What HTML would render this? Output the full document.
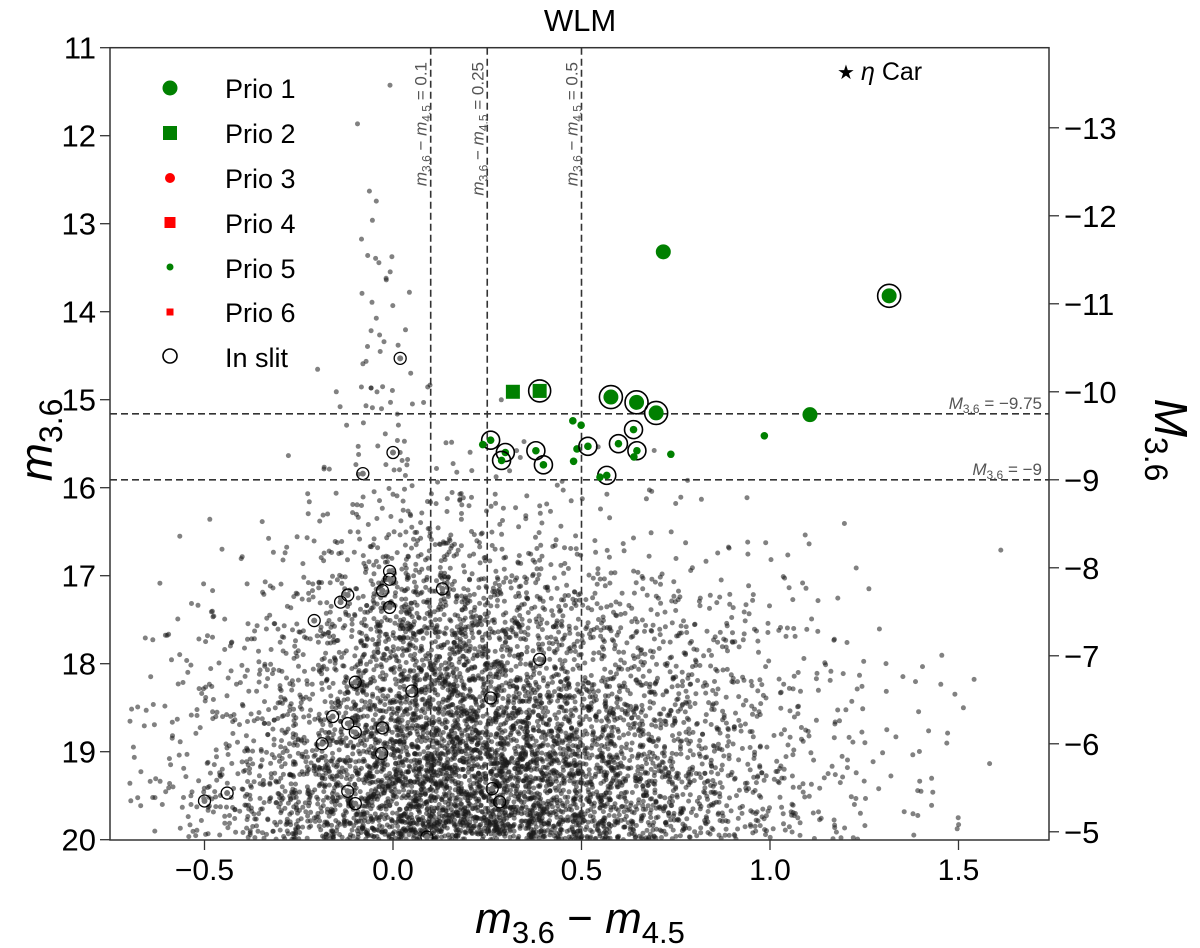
<!DOCTYPE html>
<html><head><meta charset="utf-8"><style>
html,body{margin:0;padding:0;background:#fff;}
svg{display:block;font-family:"Liberation Sans","DejaVu Sans",sans-serif;}
</style></head><body>
<svg id="chart" width="1200" height="948" viewBox="0 0 1200 948" xmlns="http://www.w3.org/2000/svg">
</svg>
<script>
// ---- data ----
const xBinStart = -0.7, xBinStep = 0.1;
const mBinStart = 11, mBinStep = 0.5;
// gray field-star counts per (m-row, color-column) cell
const densityRows = [
 [0,0,0,0,0,0,1,0,0,0,0,0,0,0,0,0,0,0,0,0,0,0,0,0],
 [0,0,0,0,0,0,1,0,0,0,0,0,0,0,0,0,0,0,0,0,0,0,0,0],
 [0,0,0,0,0,0,0,0,0,0,0,0,0,0,0,0,0,0,0,0,0,0,0,0],
 [0,0,0,0,0,0,3,0,0,0,0,0,0,0,0,0,0,0,0,0,0,0,0,0],
 [0,0,0,0,0,0,5,0,0,0,0,0,0,0,0,0,0,0,0,0,0,0,0,0],
 [0,0,0,0,0,0,6,1,0,0,0,0,0,0,0,0,0,0,0,0,0,0,0,0],
 [0,0,0,0,0,0,6,2,0,0,0,0,0,0,0,0,0,0,0,0,0,0,0,0],
 [0,0,0,0,0,2,8,3,0,0,0,0,0,0,0,0,0,0,0,0,0,0,0,0],
 [0,0,0,0,0,2,6,6,2,1,1,0,0,0,0,0,0,0,0,0,0,0,0,0],
 [0,0,0,0,1,3,6,8,4,4,3,2,1,1,1,0,0,0,0,0,0,0,0,0],
 [0,0,1,1,3,6,12,16,14,10,8,5,4,3,2,1,1,0,1,0,0,0,0,0],
 [0,1,2,3,7,14,26,33,30,23,18,14,9,7,6,4,3,3,1,1,0,0,0,1],
 [1,4,6,8,14,28,49,63,59,49,39,31,22,17,14,11,8,6,3,1,0,0,0,0],
 [3,6,8,14,22,39,63,84,84,70,59,48,39,31,25,20,14,8,4,3,1,1,0,0],
 [4,7,13,20,31,50,77,100,105,95,81,67,56,45,35,25,18,11,7,4,3,3,1,0],
 [6,10,17,28,42,63,91,119,129,123,109,92,77,59,45,34,22,14,8,6,4,3,1,0],
 [7,13,22,39,59,84,112,140,154,151,137,119,98,77,59,42,28,18,11,7,4,3,1,0],
 [7,14,25,45,70,98,126,154,168,165,151,133,109,84,63,45,31,20,13,8,4,3,1,0]
];
const slitGrayX = [0.019,0.0,-0.08,-0.009,-0.009,-0.028,0.131,-0.12,-0.139,-0.009,-0.209,0.389,-0.10,0.05,0.259,-0.16,-0.12,-0.10,-0.028,-0.188,-0.50,-0.44,-0.10,-0.12,0.263,0.283,0.09,-0.03];
const slitGrayM = [14.53,15.60,15.84,16.95,17.04,17.17,17.15,17.22,17.30,17.36,17.51,17.95,18.21,18.31,18.39,18.60,18.68,18.78,18.73,18.91,19.56,19.47,19.59,19.45,19.42,19.57,19.97,19.02];
const prio1X = [0.717,1.316,0.578,0.646,0.698,1.106];
const prio1M = [13.32,13.82,14.97,15.03,15.15,15.17];
const prio1Slit = [0,1,1,1,1,0];
const prio2X = [0.318,0.389];
const prio2M = [14.91,14.90];
const prio2Slit = [0,1];
const prio5X = [0.259,0.238,0.298,0.288,0.379,0.399,0.477,0.499,0.488,0.479,0.517,0.638,0.598,0.647,0.639,0.737,0.985,0.567,0.549];
const prio5M = [15.46,15.51,15.60,15.69,15.58,15.74,15.24,15.29,15.56,15.70,15.53,15.34,15.50,15.58,15.65,15.62,15.41,15.86,15.88];
const prio5Slit = [1,0,1,1,1,1,0,0,0,0,1,1,1,1,0,0,0,1,0];
const xTicks = [-0.5,0.0,0.5,1.0,1.5];
const xTickLabels = ["\u22120.5","0.0","0.5","1.0","1.5"];
const yTicks = [11,12,13,14,15,16,17,18,19,20];
const MTicks = [-13,-12,-11,-10,-9,-8,-7,-6,-5];
const distMod = 24.91;
const vLines = [0.1,0.25,0.5];
const vLineLabels = ["0.1","0.25","0.5"];
const hLinesM = [-9.75,-9];
const hLineLabels = ["\u22129.75","\u22129"];

// ---- scales ----
const X0=110, X1=1049, Y0=47.7, Y1=840;
const xs = v => 393 + 377*v;
const ys = m => Y0 + (m-11)*88;
const NS="http://www.w3.org/2000/svg";
const svg=document.getElementById('chart');
function mk(tag,attrs,parent){const e=document.createElementNS(NS,tag);for(const k in attrs)e.setAttribute(k,attrs[k]);(parent||svg).appendChild(e);return e;}
function hashFrac(n){const s=Math.sin(n)*43758.5453;return s-Math.floor(s);}

const defs=mk('defs',{});
const cp=mk('clipPath',{id:'plotclip'},defs);
mk('rect',{x:X0,y:Y0,width:X1-X0,height:Y1-Y0},cp);

const field=mk('g',{'clip-path':'url(#plotclip)'});


let seq=0;
densityRows.forEach((row,ri)=>{
  row.forEach((n,ci)=>{
    for(let k=0;k<n;k++){
      seq++;
      const u=hashFrac(seq*12.9898), w=hashFrac(seq*78.233+1.7);
      const xv=xBinStart+(ci+u)*xBinStep;
      const mv=mBinStart+(ri+w)*mBinStep;
      const c=mk('circle',{cx:xs(xv).toFixed(1),cy:ys(mv).toFixed(1),r:2.5,fill:'#1a1a1a','fill-opacity':0.55},field);
      
      
    }
  });
});
slitGrayX.forEach((xv,i)=>{
  const c=mk('circle',{cx:xs(xv),cy:ys(slitGrayM[i]),r:3,fill:'#777'},field);
  
  
  const r=mk('circle',{cx:xs(xv),cy:ys(slitGrayM[i]),r:6,fill:'none',stroke:'#000','stroke-width':1.3},field);
  
  
});

vLines.forEach((v,i)=>{
  const l=mk('line',{x1:xs(v),x2:xs(v),y1:Y0,y2:Y1,stroke:'#333','stroke-width':1.6,'stroke-dasharray':'7,4'});
  
  
  const t=mk('text',{transform:`translate(${xs(v)-4},62) rotate(-90)`,'text-anchor':'end','font-size':17,fill:'#555'});
  
  
  t.innerHTML=`<tspan font-style="italic">m</tspan><tspan font-size="12" dy="4">3.6</tspan><tspan dy="-4"> \u2212 </tspan><tspan font-style="italic">m</tspan><tspan font-size="12" dy="4">4.5</tspan><tspan dy="-4"> = ${vLineLabels[i]}</tspan>`;
});
hLinesM.forEach((M,i)=>{
  const y=ys(M+distMod);
  const l=mk('line',{x1:X0,x2:X1,y1:y,y2:y,stroke:'#333','stroke-width':1.6,'stroke-dasharray':'7,4'});
  
  
  const t=mk('text',{x:1042,y:y-5,'text-anchor':'end','font-size':17,fill:'#555'});
  
  
  t.innerHTML=`<tspan font-style="italic">M</tspan><tspan font-size="12" dy="4">3.6</tspan><tspan dy="-4"> = ${hLineLabels[i]}</tspan>`;
});

const GR='#008000';
function ring(x,y,r,name){const c=mk('circle',{cx:x,cy:y,r:r,fill:'none',stroke:'#000','stroke-width':1.6});}
prio5X.forEach((xv,i)=>{
  const x=xs(xv),y=ys(prio5M[i]);
  const c=mk('circle',{cx:x,cy:y,r:3.8,fill:GR});
  
  
  if(prio5Slit[i]) ring(x,y,9,'in-slit-ring');
});
prio2X.forEach((xv,i)=>{
  const x=xs(xv),y=ys(prio2M[i]);
  const c=mk('rect',{x:x-7,y:y-7,width:14,height:14,fill:GR});
  
  
  if(prio2Slit[i]) ring(x,y,11,'in-slit-ring');
});
prio1X.forEach((xv,i)=>{
  const x=xs(xv),y=ys(prio1M[i]);
  const c=mk('circle',{cx:x,cy:y,r:7.5,fill:GR});
  
  
  if(prio1Slit[i]) ring(x,y,11.5,'in-slit-ring');
});

const fr=mk('rect',{x:X0,y:Y0,width:X1-X0,height:Y1-Y0,fill:'none',stroke:'#333','stroke-width':1.5});



xTicks.forEach((v,i)=>{
  const x=xs(v);
  const l=mk('line',{x1:x,x2:x,y1:Y1,y2:Y1+10,stroke:'#333','stroke-width':1.3});
  
  
  const t=mk('text',{x:x,y:880,'text-anchor':'middle','font-size':30});
  t.textContent=xTickLabels[i];
  
  
});
yTicks.forEach(m=>{
  const y=ys(m);
  const l=mk('line',{x1:X0-10,x2:X0,y1:y,y2:y,stroke:'#333','stroke-width':1.3});
  
  
  const t=mk('text',{x:96,y:y+11,'text-anchor':'end','font-size':31});
  t.textContent=m;
  
  
});
MTicks.forEach(M=>{
  const y=ys(M+distMod);
  const l=mk('line',{x1:X1,x2:X1+10,y1:y,y2:y,stroke:'#333','stroke-width':1.3});
  
  
  const t=mk('text',{x:1064,y:y+11,'text-anchor':'start','font-size':31});
  t.textContent='\u2212'+Math.abs(M);
  
  
});
</script>
<svg style="position:absolute;left:0;top:0" width="1200" height="948" xmlns="http://www.w3.org/2000/svg" font-family="Liberation Sans, DejaVu Sans, sans-serif">
  <text x="580" y="31" text-anchor="middle" font-size="31">WLM</text>
  <text x="580" y="933" text-anchor="middle" font-size="44"><tspan font-style="italic">m</tspan><tspan font-size="31" dy="10">3.6</tspan><tspan dy="-10"> − </tspan><tspan font-style="italic">m</tspan><tspan font-size="31" dy="10">4.5</tspan></text>
  <text transform="translate(52,440) rotate(-90)" text-anchor="middle" font-size="46"><tspan font-style="italic">m</tspan><tspan font-size="32" dy="10">3.6</tspan></text>
  <text transform="translate(1155,440) rotate(90)" text-anchor="middle" font-size="46"><tspan font-style="italic">M</tspan><tspan font-size="32" dy="10">3.6</tspan></text>
  <g>
    <text x="846" y="79" text-anchor="middle" font-size="20">★</text>
    <text x="861" y="80" font-size="25"><tspan font-style="italic">η</tspan> Car</text>
  </g>
  <g font-size="27">
    <circle cx="170" cy="88" r="7.5" fill="#008000"/>
    <text x="225" y="98">Prio 1</text>
    <rect x="163" y="126" width="14" height="14" fill="#008000"/>
    <text x="225" y="143">Prio 2</text>
    <circle cx="170" cy="178" r="5" fill="#ff0000"/>
    <text x="225" y="188">Prio 3</text>
    <rect x="164.5" y="217" width="11" height="11" fill="#ff0000"/>
    <text x="225" y="233">Prio 4</text>
    <circle cx="170" cy="267" r="3.5" fill="#008000"/>
    <text x="225" y="278">Prio 5</text>
    <rect x="166.5" y="308.5" width="7" height="7" fill="#ff0000"/>
    <text x="225" y="322">Prio 6</text>
    <circle cx="170" cy="356" r="7" fill="none" stroke="#000" stroke-width="1.6"/>
    <text x="225" y="367">In slit</text>
  </g>
</svg>
</body></html>
